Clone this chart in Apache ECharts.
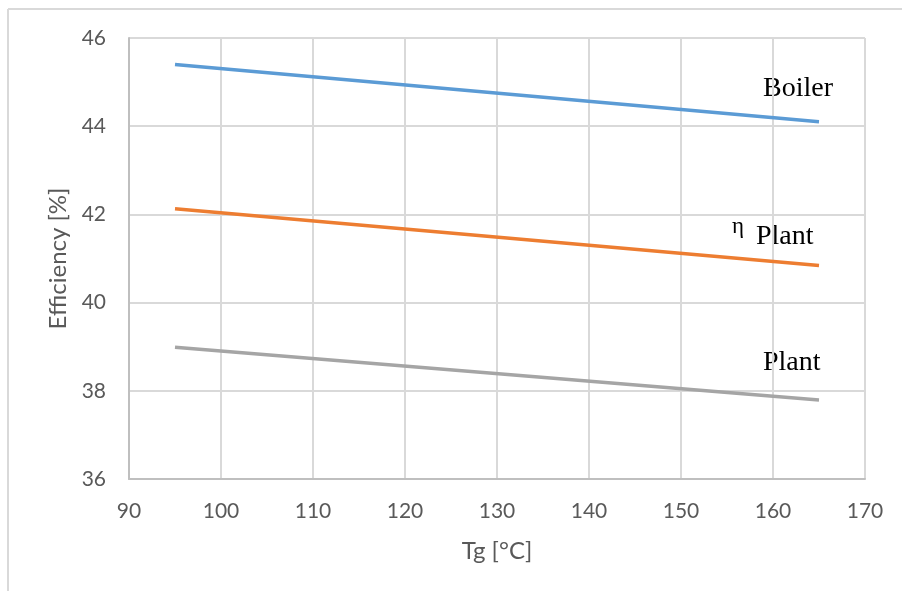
<!DOCTYPE html>
<html>
<head>
<meta charset="utf-8">
<script src="https://cdn.jsdelivr.net/npm/echarts@6/dist/echarts.min.js"></script>
<style>html,body{margin:0;padding:0;background:#fff;}#c{width:902px;height:591px;}</style>
</head>
<body>
<div id="c"></div>
<script>
const xTg = [95, 165];
const boiler = [45.40, 44.10];
const etaPlant = [42.13, 40.84];
const plant = [38.99, 37.79];
const seriesNames = ['Boiler', 'η Plant', 'Plant'];
const xTicks = [90, 100, 110, 120, 130, 140, 150, 160, 170];
const yTicks = [36, 38, 40, 42, 44, 46];

const pairs = arr => arr.map((v, i) => [xTg[i], v]);
const chart = echarts.init(document.getElementById('c'));
const tickFont = 'Lato';
const labelFont = 'Liberation Serif';
chart.setOption({
  animation: false,
  backgroundColor: '#fff',
  grid: { left: 129, right: 37, top: 38, bottom: 112, containLabel: false },
  xAxis: {
    type: 'value', min: xTicks[0], max: xTicks[xTicks.length - 1], interval: 10,
    name: 'Tg [°C]', nameLocation: 'middle', nameGap: 60,
    nameTextStyle: { fontFamily: tickFont, fontSize: 24, color: '#595959' },
    axisLine: { show: true, lineStyle: { color: '#bfbfbf', width: 2 } },
    axisTick: { show: false },
    splitLine: { show: true, lineStyle: { color: '#d9d9d9', width: 2 } },
    axisLabel: { fontFamily: tickFont, fontSize: 21, color: '#595959', margin: 22 }
  },
  yAxis: {
    type: 'value', min: yTicks[0], max: yTicks[yTicks.length - 1], interval: 2,
    name: 'Efficiency [%]', nameLocation: 'middle', nameGap: 57,
    nameTextStyle: { fontFamily: tickFont, fontSize: 24, color: '#595959' },
    axisLine: { show: true, lineStyle: { color: '#bfbfbf', width: 2 } },
    axisTick: { show: false },
    splitLine: { show: true, lineStyle: { color: '#d9d9d9', width: 2 } },
    axisLabel: { fontFamily: tickFont, fontSize: 21, color: '#595959', margin: 23 }
  },
  series: [
    { name: seriesNames[0], type: 'line', data: pairs(boiler), showSymbol: false, lineStyle: { color: '#5B9BD5', width: 3.5 }, itemStyle: { color: '#5B9BD5' } },
    { name: seriesNames[1], type: 'line', data: pairs(etaPlant), showSymbol: false, lineStyle: { color: '#ED7D31', width: 3.5 }, itemStyle: { color: '#ED7D31' } },
    { name: seriesNames[2], type: 'line', data: pairs(plant), showSymbol: false, lineStyle: { color: '#A5A5A5', width: 3.5 }, itemStyle: { color: '#A5A5A5' } }
  ],
  graphic: [
    { type: 'line', shape: { x1: 8, y1: 9, x2: 902, y2: 9 }, style: { stroke: '#d9d9d9', lineWidth: 2 }, silent: true },
    { type: 'line', shape: { x1: 8, y1: 9, x2: 8, y2: 591 }, style: { stroke: '#d9d9d9', lineWidth: 2 }, silent: true },
    { type: 'text', left: 763, top: 75, style: { text: 'Boiler', fontFamily: labelFont, fontSize: 28, fill: '#000' } },
    { type: 'text', left: 732, top: 215, style: { text: 'η', fontFamily: labelFont, fontSize: 23, fill: '#000' } },
    { type: 'text', left: 756, top: 223, style: { text: 'Plant', fontFamily: labelFont, fontSize: 28, fill: '#000' } },
    { type: 'text', left: 763, top: 349, style: { text: 'Plant', fontFamily: labelFont, fontSize: 28, fill: '#000' } }
  ]
});
</script>
</body>
</html>
